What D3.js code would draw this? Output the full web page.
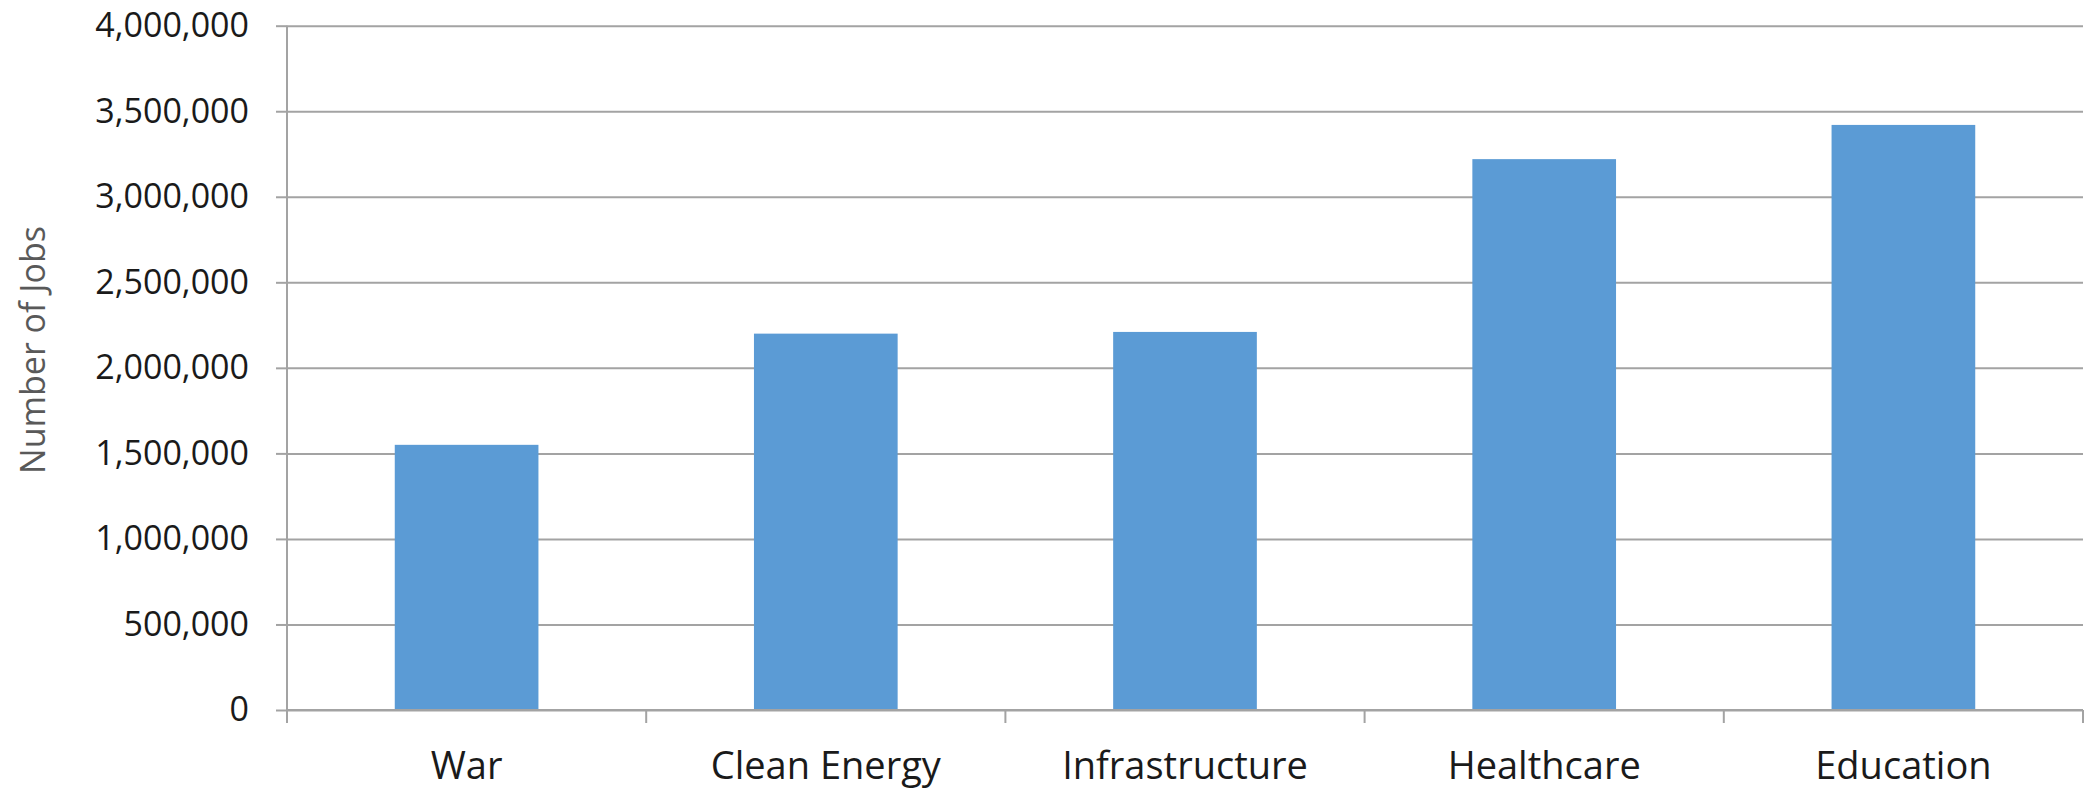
<!DOCTYPE html>
<html>
<head>
<meta charset="utf-8">
<script src="https://cdn.jsdelivr.net/npm/d3@7"></script>
<style>
  html, body { margin: 0; padding: 0; background: #ffffff; }
  svg { display: block; }
</style>
</head>
<body>
<svg id="chart" width="2084" height="793"></svg>
<script>
// Jobs created per $1 billion of spending, by sector
const categories = ["War", "Clean Energy", "Infrastructure", "Healthcare", "Education"];
const jobs = [1550000, 2200000, 2210000, 3220000, 3420000];
const yTicks = [0, 500000, 1000000, 1500000, 2000000, 2500000, 3000000, 3500000, 4000000];
const yTitle = "Number of Jobs";

const plotLeft = 287, plotRight = 2083, plotTop = 25.7, plotBottom = 710;

const svg = d3.select("#chart");

const x = d3.scaleBand()
  .domain(categories)
  .range([plotLeft, plotRight])
  .paddingInner(0.6)
  .paddingOuter(0.3);

const y = d3.scaleLinear()
  .domain([0, 4000000])
  .range([plotBottom, plotTop]);

const gridColor = "#a3a3a3";

// horizontal gridlines
const grid = svg.append("g")
  .attr("transform", `translate(${plotLeft},0)`)
  .call(d3.axisLeft(y).tickValues(yTicks).tickSize(-(plotRight - plotLeft)).tickFormat(""));
grid.select(".domain").remove();
grid.selectAll("line").attr("stroke", gridColor).attr("stroke-width", 2);

// y axis with outward ticks and labels
const yAxis = svg.append("g")
  .attr("transform", `translate(${plotLeft},0)`)
  .call(d3.axisLeft(y).tickValues(yTicks).tickSize(11).tickPadding(27).tickFormat(d3.format(",")));
yAxis.select(".domain").remove();
yAxis.selectAll("line").attr("stroke", gridColor).attr("stroke-width", 2);
yAxis.selectAll("text")
  .attr("font-family", "'Open Sans', sans-serif")
  .attr("font-size", 34)
  .attr("fill", "#1a1a1a");

// bars
svg.append("g")
  .selectAll("rect")
  .data(categories)
  .join("rect")
  .attr("x", d => x(d))
  .attr("width", x.bandwidth())
  .attr("y", (d, i) => y(jobs[i]))
  .attr("height", (d, i) => y(0) - y(jobs[i]))
  .attr("fill", "#5b9bd5");

// vertical axis line
svg.append("line")
  .attr("x1", plotLeft).attr("x2", plotLeft)
  .attr("y1", plotTop).attr("y2", plotBottom + 13)
  .attr("stroke", gridColor).attr("stroke-width", 2);

// baseline
svg.append("line")
  .attr("x1", plotLeft).attr("x2", plotRight)
  .attr("y1", y(0)).attr("y2", y(0))
  .attr("stroke", gridColor).attr("stroke-width", 2);

// category boundary ticks
const boundaries = d3.range(categories.length + 1).map(i => plotLeft + i * x.step());
svg.append("g")
  .selectAll("line")
  .data(boundaries)
  .join("line")
  .attr("x1", d => d).attr("x2", d => d)
  .attr("y1", y(0)).attr("y2", y(0) + 13)
  .attr("stroke", gridColor).attr("stroke-width", 2);

// category labels
const xAxis = svg.append("g")
  .attr("transform", `translate(0,${plotBottom})`)
  .call(d3.axisBottom(x).tickSize(0).tickPadding(42));
xAxis.select(".domain").remove();
xAxis.selectAll("text")
  .attr("font-family", "'Open Sans', sans-serif")
  .attr("font-size", 38)
  .attr("fill", "#1a1a1a");

// y axis title
svg.append("text")
  .attr("transform", `translate(45,350) rotate(-90)`)
  .attr("text-anchor", "middle")
  .attr("font-family", "'Open Sans', sans-serif")
  .attr("font-size", 34)
  .attr("fill", "#595959")
  .text(yTitle);
</script>
</body>
</html>
